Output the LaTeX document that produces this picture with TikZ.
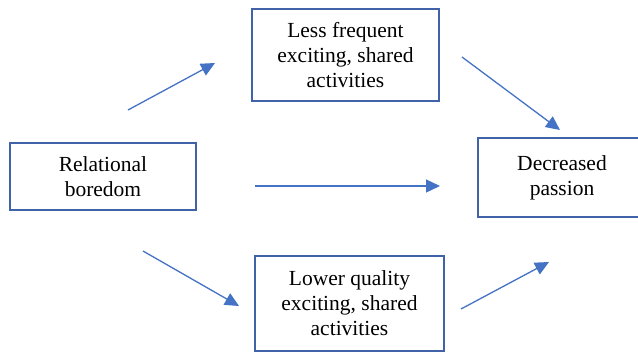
\documentclass[tikz,border=0pt]{standalone}
\usepackage{fontspec}
\setmainfont{Liberation Serif}
\usetikzlibrary{arrows.meta}
\definecolor{boxblue}{HTML}{3F62A8}
\definecolor{arrblue}{HTML}{4472C4}
\begin{document}
\begin{tikzpicture}[x=1pt,y=-1pt,
  box/.style={draw=boxblue,line width=1.6pt,fill=white,inner sep=0pt,
    align=center,font=\fontsize{21.5}{25}\selectfont},
  arr/.style={draw=arrblue,line width=1.3pt,-{Triangle[length=14pt,width=13pt]}}]
\useasboundingbox (0,0) rectangle (638,353);
\clip (0,0) rectangle (638,353);
\fill[white] (0,0) rectangle (638,353);
\node[box,minimum width=186pt,minimum height=67pt] (rb) at (103,176.5) {Relational\\boredom};
\node[box,minimum width=187pt,minimum height=92pt] (lf) at (345.5,55) {Less frequent\\exciting, shared\\activities};
\node[box,minimum width=189pt,minimum height=95pt] (lq) at (349.5,303.5) {Lower quality\\exciting, shared\\activities};
\node[box,minimum width=168pt,minimum height=79pt] (dp) at (562,177.5) {Decreased\\passion};
\coordinate (a1s) at (128,110);
\coordinate (a1e) at (215,63);
\coordinate (a2s) at (462,57);
\coordinate (a2e) at (560,130);
\coordinate (a3s) at (255,186);
\coordinate (a3e) at (440,186);
\coordinate (a4s) at (143,251);
\coordinate (a4e) at (239,306);
\coordinate (a5s) at (461,309);
\coordinate (a5e) at (549,262);
\draw[arr] (a1s) -- (a1e);
\draw[arr] (a2s) -- (a2e);
\draw[arr] (a3s) -- (a3e);
\draw[arr] (a4s) -- (a4e);
\draw[arr] (a5s) -- (a5e);
\end{tikzpicture}
\end{document}
